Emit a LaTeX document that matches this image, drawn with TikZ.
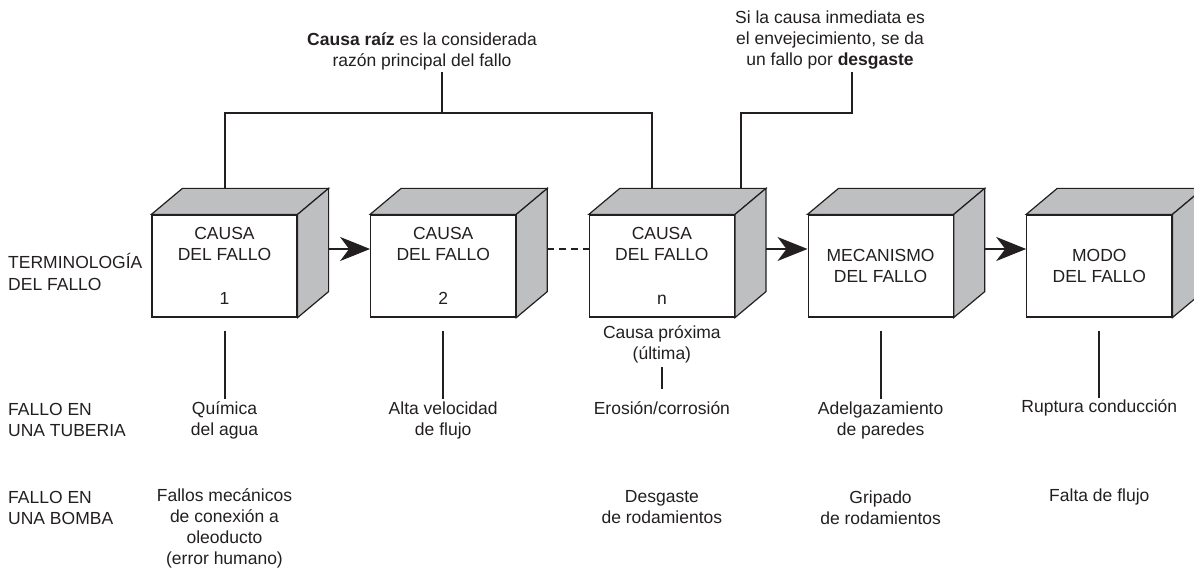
\documentclass[tikz,border=0pt]{standalone}
\usepackage{fontspec}
\setmainfont{Liberation Sans}
\usetikzlibrary{arrows.meta,positioning,calc}
\definecolor{caragris}{RGB}{190,191,193}
\definecolor{tinta}{RGB}{35,31,32}
\tikzset{
  cubo/.style={rectangle, draw=tinta, line width=1.2pt, fill=white, text=tinta,
               minimum width=145pt, minimum height=102pt, align=center, inner sep=0pt},
  cara/.style={draw=tinta, line width=1.2pt, fill=caragris},
  txt/.style={align=center, inner sep=2pt, text=tinta},
  rama/.style={draw=tinta, line width=2pt},
  flecha/.style={-{Stealth[length=30pt,width=24pt,inset=9pt]}, draw=tinta, line width=1.5pt},
  punteada/.style={draw=tinta, line width=1.2pt, dash pattern=on 7pt off 5pt},
}
\begin{document}
\begin{tikzpicture}[x=1pt, y=1pt, font=\fontsize{17.5}{21}\selectfont, node distance=72.5pt]
  \useasboundingbox (0,0) rectangle (1194,568);
  % cajas
  \node[cubo] (c1) at (224.5,302) {CAUSA\\DEL FALLO\\[23pt]1};
  \node[cubo, right=of c1] (c2) {CAUSA\\DEL FALLO\\[23pt]2};
  \node[cubo, right=of c2] (cn) {CAUSA\\DEL FALLO\\[23pt]n};
  \node[cubo, right=of cn] (mec) {MECANISMO\\DEL FALLO};
  \node[cubo, right=of mec] (modo) {MODO\\DEL FALLO};
  \foreach \caja in {c1,c2,cn,mec,modo}{
    \draw[cara] (\caja.north west) -- ++(31,26) -- ($(\caja.north east)+(31,26)$) -- (\caja.north east) -- cycle;
    \draw[cara] (\caja.north east) -- ++(31,26) -- ($(\caja.south east)+(31,26)$) -- (\caja.south east) -- cycle;
  }
  \draw[flecha] ($(c1.east)+(31,17)$) -- ($(c2.west)+(0,17)$);
  \draw[punteada] ($(c2.east)+(31,17)$) -- ($(cn.west)+(0,17)$);
  \draw[flecha] ($(cn.east)+(31,17)$) -- ($(mec.west)+(0,17)$);
  \draw[flecha] ($(mec.east)+(31,17)$) -- ($(modo.west)+(0,17)$);
  % notas de arriba
  \node[txt] (raiz) at (422,516.5) {\textbf{Causa raíz} es la considerada\\razón principal del fallo};
  \node[txt] (desg) at (830,527.5) {Si la causa inmediata es\\el envejecimiento, se da\\un fallo por \textbf{desgaste}};
  \coordinate (jr) at (442,455);
  \coordinate (jd) at (852,455);
  \draw[rama] (raiz.south -| jr) -- (jr);
  \draw[rama] ($(c1.north)+(0,26)$) |- (jr) -| ($(cn.north)+(-10,26)$);
  \draw[rama] (desg.south -| jd) -- (jd) -| ($(cn.north)+(79,26)$);
  % filas
  \node[txt, anchor=west, align=left] (term) at (6,296) {TERMINOLOGÍA\\DEL FALLO};
  \node[txt, anchor=west, align=left] (tub) at (6,148) {FALLO EN\\UNA TUBERIA};
  \node[txt, anchor=west, align=left] (bom) at (6,60.5) {FALLO EN\\UNA BOMBA};
  \coordinate (fila0) at (0,224);
  \coordinate (fila1) at (0,148);
  \coordinate (fila1b) at (0,160);
  \coordinate (fila2) at (0,60.5);
  \coordinate (fila2b) at (0,71);
  \coordinate (fila2c) at (0,40);
  \node[txt] (quim) at (c1 |- fila1) {Química\\del agua};
  \node[txt] (alta) at (c2 |- fila1) {Alta velocidad\\de flujo};
  \node[txt] (prox) at (cn |- fila0) {Causa próxima\\(última)};
  \node[txt] (ero) at (cn |- fila1b) {Erosión/corrosión};
  \node[txt] (adel) at (mec |- fila1) {Adelgazamiento\\de paredes};
  \node[txt] (rupt) at (modo |- fila1b) {Ruptura conducción};
  \node[txt] (fmec) at (c1 |- fila2c) {Fallos mecánicos\\de conexión a\\oleoducto\\(error humano)};
  \node[txt] (dsg) at (cn |- fila2) {Desgaste\\de rodamientos};
  \node[txt] (grip) at (mec |- fila2) {Gripado\\de rodamientos};
  \node[txt] (falta) at (modo |- fila2b) {Falta de flujo};
  \foreach \a/\b in {c1/quim, c2/alta, mec/adel, modo/rupt}
    \draw[rama] ($(\a.south)+(0,-13)$) -- (\b.north);
  \draw[rama, shorten <=2pt, shorten >=10pt] (prox) -- (ero);
\end{tikzpicture}
\end{document}
